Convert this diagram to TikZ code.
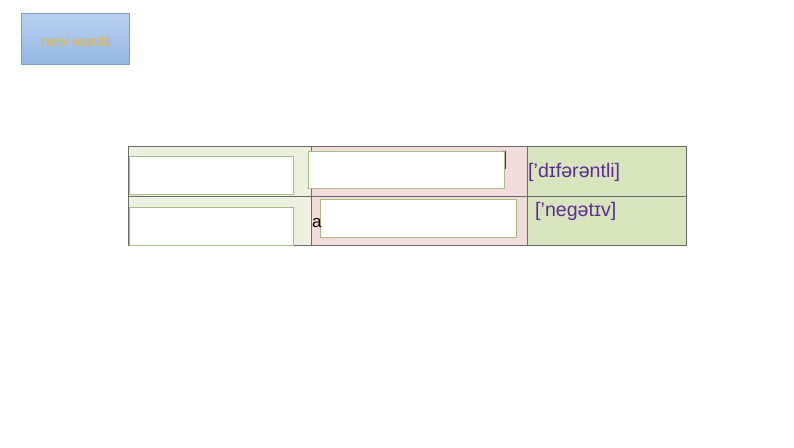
\documentclass[tikz,border=0pt]{standalone}
\usepackage{fontspec}
\setmainfont{Liberation Sans}
\newfontfamily\btnfont{Carlito}
\begin{document}
\begin{tikzpicture}[x=1pt,y=-1pt,
  cellA/.style={fill=cola,draw=gridc,line width=0.8pt},
  cellB/.style={fill=colb,draw=gridc,line width=0.8pt},
  cellC/.style={fill=colc,draw=gridc,line width=0.8pt},
  wbox/.style={fill=white,draw=boxc,line width=1pt},
  ipa/.style={text=ipac,font=\fontsize{19.6}{22}\selectfont,inner sep=0pt,anchor=west},
]
\definecolor{cola}{HTML}{EBF1DE}
\definecolor{colb}{HTML}{F2DCDB}
\definecolor{colc}{HTML}{D7E4BD}
\definecolor{gridc}{HTML}{6A6A6A}
\definecolor{boxc}{HTML}{A6BE80}
\definecolor{ipac}{HTML}{5C2C90}
\definecolor{btntop}{HTML}{B9D1EE}
\definecolor{btnbot}{HTML}{95B6E1}
\definecolor{btnedge}{HTML}{7C9DC7}
\definecolor{gold}{HTML}{E6B43E}
\useasboundingbox (0,0) rectangle (794,447);
\fill[white] (0,0) rectangle (794,447);
% button
\shade[top color=btntop,bottom color=btnbot,draw=btnedge,line width=0.8pt] (21,13) rectangle (129,64);
\node[text=gold,font=\btnfont\fontsize{15.5}{18}\selectfont,inner sep=0pt] (btn) at (76,41) {new words};
% table cells
\path[cellA] (128,146) rectangle (311,196) node[midway] (c11) {};
\path[cellB] (311,146) rectangle (527,196) node[midway] (c12) {};
\path[cellC] (527,146) rectangle (686,196) node[midway] (c13) {};
\path[cellA] (128,196) rectangle (311,245) node[midway] (c21) {};
\path[cellB] (311,196) rectangle (527,245) node[midway] (c22) {};
\path[cellC] (527,196) rectangle (686,245) node[midway] (c23) {};
% hidden text remnants
\node[ipa] (br) at (502,160) {]};
% white boxes
\path[wbox] (129,156) rectangle (293,194) node[midway] (boxA) {};
\path[wbox] (308,151) rectangle (504,188) node[midway] (boxB) {};
\path[wbox] (129,207) rectangle (293,245) node[midway] (boxC) {};
\path[wbox] (320,199) rectangle (516,237) node[midway] (boxD) {};
\node[inner sep=0pt,anchor=west,font=\fontsize{17}{20}\selectfont] (la) at (312,223) {a};
% phonetics
\node[ipa] (p1) at (528,172) {[{\char"0027}dɪfərəntli]};
\node[ipa] (p2) at (535,211) {[{\char"0027}negətɪv]};
\end{tikzpicture}
\end{document}
